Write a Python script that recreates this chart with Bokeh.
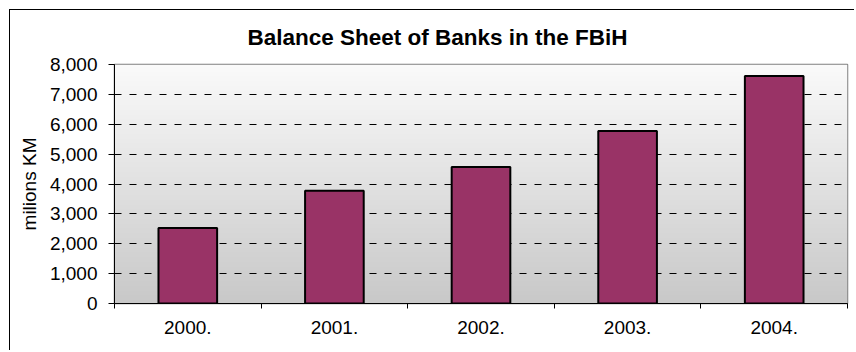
import numpy as np
from bokeh.plotting import figure
from bokeh.models import FixedTicker, NumeralTickFormatter, Range1d, Title
from bokeh.embed import file_html
from bokeh.resources import INLINE

# ---- data ----
years = ["2000.", "2001.", "2002.", "2003.", "2004."]
balance = [2530, 3770, 4565, 5775, 7615]
y_ticks = [0, 1000, 2000, 3000, 4000, 5000, 6000, 7000, 8000]
title_text = "Balance Sheet of Banks in the FBiH"
y_label = "milions KM"

FONT = "Liberation Sans"
n = len(years)
xpos = [i + 0.5 for i in range(n)]

p = figure(width=845, height=341, output_backend="svg", toolbar_location=None,
           x_range=Range1d(0, n), y_range=Range1d(0, y_ticks[-1]),
           min_border_left=104, min_border_right=8, min_border_top=54, min_border_bottom=48)
p.styles = {"border-left": "1px solid black", "border-top": "1px solid black",
            "margin-left": "9px", "margin-top": "9px"}

p.title = Title(text=title_text, align="left", offset=133, text_font=FONT,
                text_font_size="22.5px", text_font_style="bold", text_color="black",
                vertical_align="top", standoff=26)

# gradient background (decoration)
rows = 240
img = np.zeros((rows, 1), dtype=np.uint32)
view = img.view(dtype=np.uint8).reshape((rows, 1, 4))
for i in range(rows):
    g = int(round(200 + (250 - 200) * i / (rows - 1)))
    view[i, 0, :] = [g, g, g, 255]
bg = p.image_rgba(image=[img], x=0, y=0, dw=n, dh=y_ticks[-1])
bg.level = "image"

p.background_fill_color = "white"
p.border_fill_color = "white"
p.outline_line_color = "#808080"
p.outline_line_width = 1.5

# grid
p.xgrid.visible = False
p.ygrid.ticker = FixedTicker(ticks=y_ticks[1:-1])
p.ygrid.grid_line_color = "black"
p.ygrid.grid_line_dash = "7 8"
p.ygrid.grid_line_width = 1

# bars
p.vbar(x=xpos, top=balance, width=0.4, bottom=0, fill_color="#993366",
       line_color="black", line_width=2)

# y axis
p.yaxis.ticker = FixedTicker(ticks=y_ticks)
p.yaxis.formatter = NumeralTickFormatter(format="0,0")
p.yaxis.major_tick_in = 0
p.yaxis.major_tick_out = 6
p.yaxis.minor_tick_line_color = None
p.yaxis.major_label_standoff = 11
p.yaxis.major_label_text_font = FONT
p.yaxis.major_label_text_font_size = "19px"
p.yaxis.major_label_text_color = "black"
p.yaxis.axis_label = y_label
p.yaxis.axis_label_text_font = FONT
p.yaxis.axis_label_text_font_size = "19px"
p.yaxis.axis_label_text_font_style = "normal"
p.yaxis.axis_label_text_color = "black"
p.yaxis.axis_label_standoff = 7
p.yaxis.axis_line_color = "black"
p.yaxis.major_tick_line_color = "black"

# x axis
p.xaxis.ticker = FixedTicker(ticks=xpos, minor_ticks=list(range(n + 1)))
p.xaxis.major_label_overrides = {x: lab for x, lab in zip(xpos, years)}
p.xaxis.major_tick_line_color = None
p.xaxis.major_tick_in = 0
p.xaxis.major_tick_out = 5
p.xaxis.minor_tick_line_color = "black"
p.xaxis.minor_tick_in = 0
p.xaxis.minor_tick_out = 5
p.xaxis.major_label_standoff = 12
p.xaxis.major_label_text_font = FONT
p.xaxis.major_label_text_font_size = "19px"
p.xaxis.major_label_text_color = "black"
p.xaxis.axis_line_color = "black"

open("out.html", "w").write(file_html(p, INLINE))
